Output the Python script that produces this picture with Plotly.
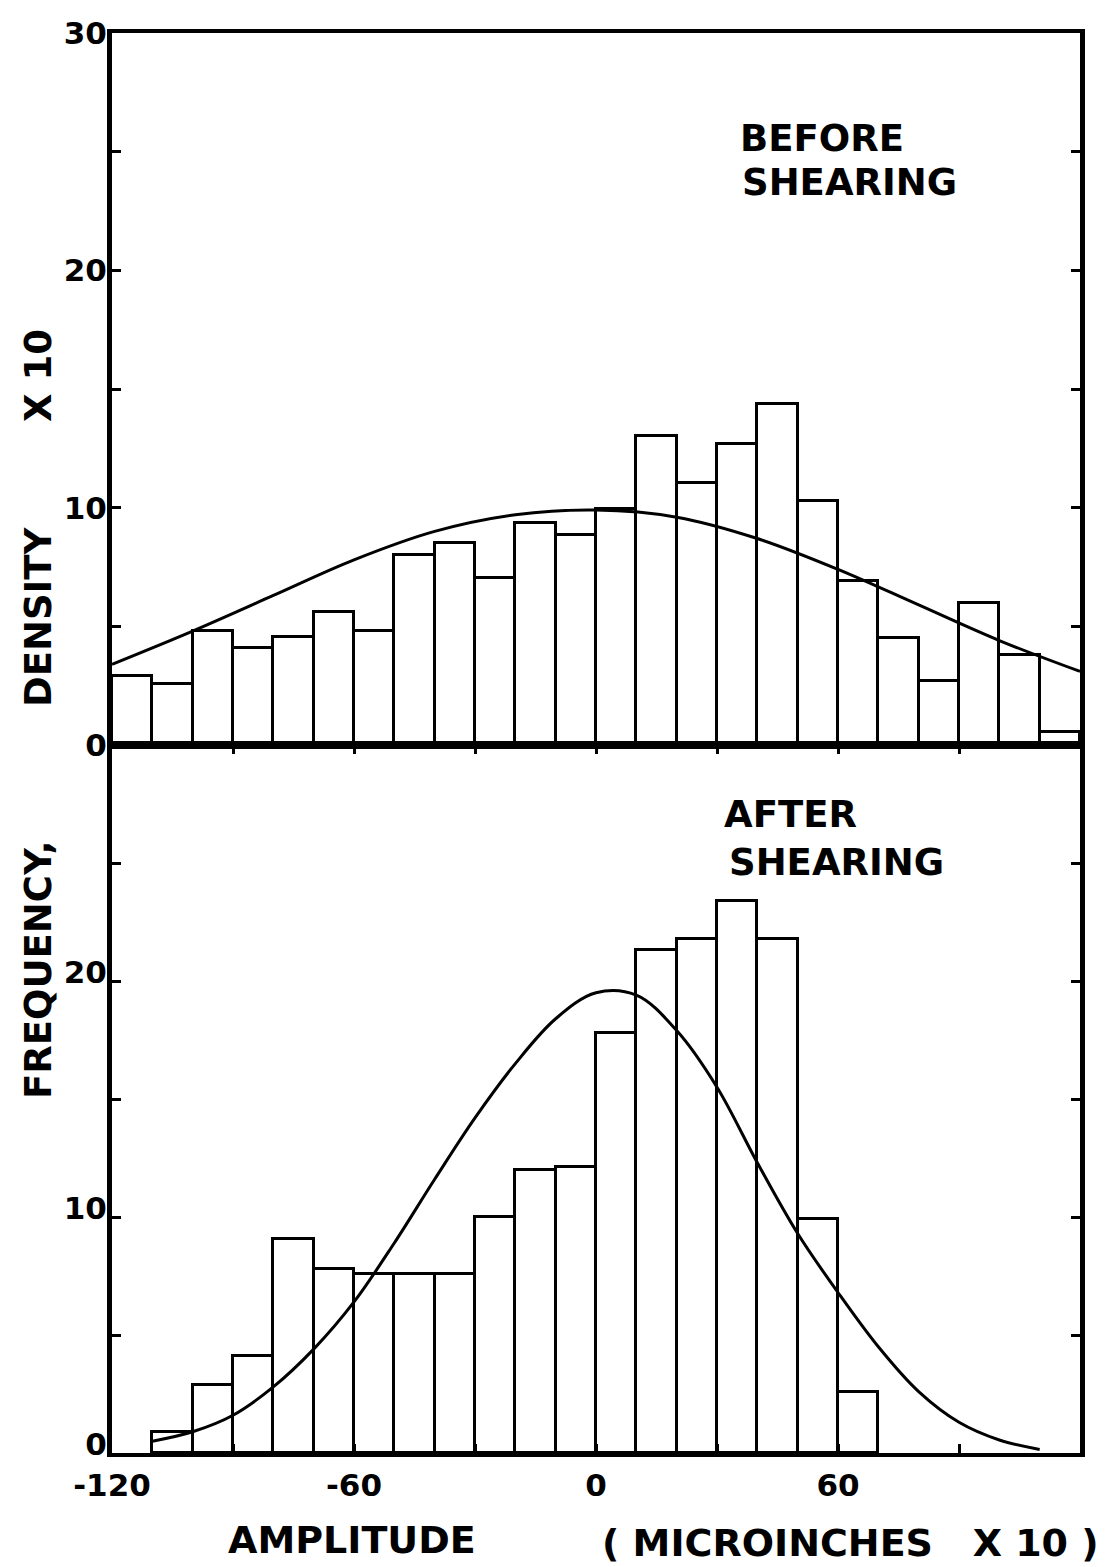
import plotly.graph_objects as go

# ---------------- data ----------------
bin_width = 10
# BEFORE SHEARING (density x10), bins start at -120
before_bin_left = list(range(-120, 120, 10))
before_values = [2.9, 2.55, 4.8, 4.1, 4.55, 5.6, 4.8, 8.0, 8.5, 7.05, 9.35, 8.85,
                 9.95, 13.0, 11.05, 12.7, 14.35, 10.3, 6.9, 4.5, 2.7, 6.0, 3.8, 0.55]
before_curve_x = [-120, -100, -80, -60, -40, -20, 0, 20, 40, 60, 80, 100, 120]
before_curve_y = [3.4, 4.8, 6.3, 7.8, 9.0, 9.7, 9.9, 9.6, 8.7, 7.4, 5.9, 4.4, 3.1]

# AFTER SHEARING (frequency), bins start at -110
after_bin_left = list(range(-110, 70, 10))
after_values = [0.9, 2.9, 4.1, 9.05, 7.8, 7.6, 7.6, 7.6, 10.0, 12.0, 12.1, 17.8,
                21.3, 21.8, 23.4, 21.8, 9.9, 2.6]
after_curve_x = [-110, -100, -90, -80, -70, -60, -50, -40, -30, -20, -10, 0,
                 10, 20, 30, 40, 50, 60, 70, 80, 90, 100, 110]
after_curve_y = [0.5, 0.9, 1.6, 2.8, 4.4, 6.4, 8.9, 11.6, 14.2, 16.5, 18.4, 19.5,
                 19.4, 17.9, 15.5, 12.3, 9.3, 6.8, 4.5, 2.6, 1.3, 0.55, 0.15]

x_tickvals = [-120, -90, -60, -30, 0, 30, 60, 90, 120]
x_ticktext = ["-120", "", "-60", "", "0", "", "60", "", "120"]
top_y_tickvals = [0, 5, 10, 15, 20, 25, 30]
top_y_ticktext = ["0", "", "10", "", "20", "", "30"]
bot_y_tickvals = [0, 5, 10, 15, 20, 25]
bot_y_ticktext = ["0", "", "10", "", "20", ""]

# ---------------- figure ----------------
W, H = 1112, 1567
L, R, T, B = 112, 32, 33, 114
mid_px = 745
split = (H - B - mid_px) / (H - T - B)

def px_x(p):
    return (p - L) / (W - L - R)

def px_y(p):
    return (H - B - p) / (H - T - B)

FONT = "DejaVu Sans"
fig = go.Figure()

fig.add_trace(go.Bar(
    x=[b + bin_width / 2 for b in before_bin_left], y=before_values, width=bin_width,
    marker=dict(color="white", line=dict(color="black", width=3)),
    xaxis="x", yaxis="y", showlegend=False))
fig.add_trace(go.Scatter(
    x=before_curve_x, y=before_curve_y, mode="lines",
    line=dict(color="black", width=3, shape="spline", smoothing=1.0),
    xaxis="x", yaxis="y", showlegend=False))
fig.add_trace(go.Bar(
    x=[b + bin_width / 2 for b in after_bin_left], y=after_values, width=bin_width,
    marker=dict(color="white", line=dict(color="black", width=3)),
    xaxis="x2", yaxis="y2", showlegend=False))
fig.add_trace(go.Scatter(
    x=after_curve_x, y=after_curve_y, mode="lines",
    line=dict(color="black", width=3, shape="spline", smoothing=1.0),
    xaxis="x2", yaxis="y2", showlegend=False))

tickfont = dict(family=FONT, size=31, color="black", weight="bold")
common_axis = dict(showline=True, linecolor="black", showgrid=False, zeroline=False)

fig.update_layout(
    width=W, height=H,
    margin=dict(l=L, r=R, t=T, b=B, pad=0),
    paper_bgcolor="white", plot_bgcolor="white",
    bargap=0,
    xaxis=dict(domain=[0, 1], anchor="y", range=[-120, 120], showticklabels=False,
               ticks="", mirror=True, linewidth=4, **common_axis),
    yaxis=dict(domain=[split, 1], anchor="x", range=[0, 30], tickvals=top_y_tickvals,
               ticktext=top_y_ticktext, ticks="inside", ticklen=9, tickwidth=3,
               tickcolor="black", mirror="ticks", linewidth=5, tickfont=tickfont,
               ticklabelstandoff=-6, **common_axis),
    xaxis2=dict(domain=[0, 1], anchor="y2", range=[-120, 120], tickvals=x_tickvals,
                ticktext=x_ticktext, ticks="inside", ticklen=9, tickwidth=3,
                tickcolor="black", mirror="ticks", linewidth=4, tickfont=tickfont,
                ticklabelstandoff=2, **common_axis),
    yaxis2=dict(domain=[0, split], anchor="x2", range=[0, 30], tickvals=bot_y_tickvals,
                ticktext=bot_y_ticktext, ticks="inside", ticklen=9, tickwidth=3,
                tickcolor="black", mirror="ticks", linewidth=5, tickfont=tickfont,
                ticklabelstandoff=-6, ticklabelshift=-9, **common_axis),
)

lab = dict(family=FONT, size=37, color="black", weight="bold")

def ann(text, x, y, xanchor="left", angle=0, size=None):
    f = dict(lab)
    if size:
        f["size"] = size
    fig.add_annotation(text=text, x=px_x(x), y=px_y(y), xref="paper", yref="paper",
                       xanchor=xanchor, yanchor="middle", showarrow=False,
                       textangle=angle, font=f)

ann("BEFORE", 738, 138)
ann("SHEARING", 740, 183)
ann("AFTER", 722, 814)
ann("SHEARING", 727, 862)

ann("FREQUENCY,", 38, 970, xanchor="center", angle=-90)
ann("DENSITY", 38, 617, xanchor="center", angle=-90)
ann("X 10", 38, 376, xanchor="center", angle=-90)

ann("AMPLITUDE", 352, 1540, xanchor="center", size=38)
ann("( MICROINCHES   X 10 )", 850, 1543, xanchor="center", size=38)

fig.write_html("out.html")
